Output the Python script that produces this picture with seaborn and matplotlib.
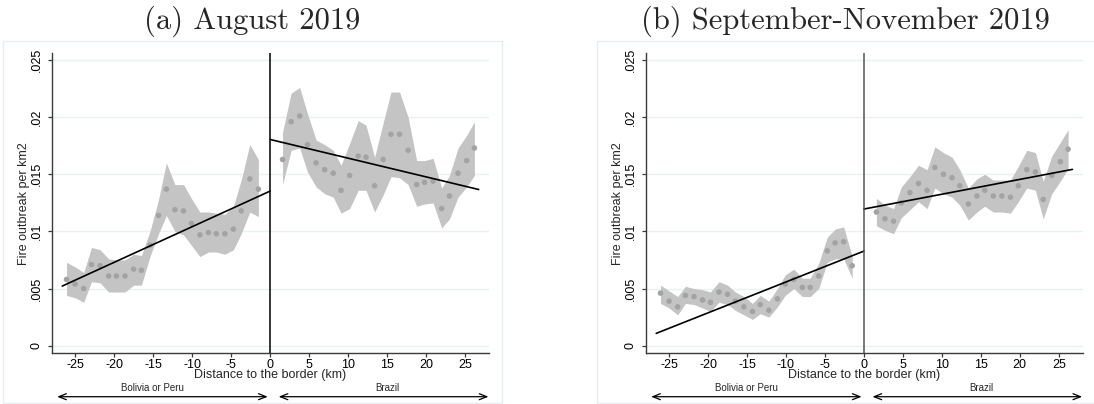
import numpy as np
import pandas as pd
import matplotlib
matplotlib.use("Agg")
import matplotlib.pyplot as plt
from matplotlib.patches import Rectangle
import seaborn as sns

# ---------------- data ----------------
xL = [-26.1, -25.0, -23.9, -22.9, -21.8, -20.7, -19.7, -18.6, -17.5, -16.5, -15.4, -14.3,
      -13.3, -12.2, -11.1, -10.1, -9.0, -7.9, -6.9, -5.8, -4.7, -3.7, -2.6, -1.5]
xR = [1.6, 2.7, 3.8, 4.8, 5.9, 7.0, 8.1, 9.1, 10.2, 11.3, 12.3, 13.4,
      14.5, 15.5, 16.6, 17.7, 18.8, 19.8, 20.9, 22.0, 23.0, 24.1, 25.2, 26.2]

# Panel (a) August 2019
aL_mean = [0.0058, 0.0054, 0.0050, 0.0071, 0.0070, 0.0061, 0.0061, 0.0061, 0.0067, 0.0066, 0.0088, 0.0114,
           0.0137, 0.0119, 0.0118, 0.0107, 0.0097, 0.0099, 0.0098, 0.0098, 0.0102, 0.0118, 0.0146, 0.0137]
aL_hi = [0.0073, 0.0069, 0.0064, 0.0086, 0.0084, 0.0076, 0.0075, 0.0075, 0.0080, 0.0079, 0.0100, 0.0128,
         0.0160, 0.0141, 0.0141, 0.0129, 0.0117, 0.0117, 0.0116, 0.0115, 0.0122, 0.0145, 0.0176, 0.0163]
aL_lo = [0.0044, 0.0042, 0.0038, 0.0056, 0.0055, 0.0047, 0.0047, 0.0047, 0.0053, 0.0053, 0.0078, 0.0098,
         0.0114, 0.0100, 0.0097, 0.0088, 0.0078, 0.0082, 0.0082, 0.0080, 0.0084, 0.0098, 0.0117, 0.0113]
aR_mean = [0.0163, 0.0196, 0.0201, 0.0176, 0.0160, 0.0154, 0.0151, 0.0136, 0.0149, 0.0166, 0.0165, 0.0140,
           0.0163, 0.0185, 0.0185, 0.0171, 0.0141, 0.0143, 0.0144, 0.0120, 0.0131, 0.0151, 0.0162, 0.0173]
aR_hi = [0.0187, 0.0221, 0.0226, 0.0203, 0.0180, 0.0176, 0.0171, 0.0158, 0.0177, 0.0197, 0.0193, 0.0165,
         0.0195, 0.0222, 0.0222, 0.0200, 0.0162, 0.0162, 0.0164, 0.0138, 0.0149, 0.0173, 0.0184, 0.0196]
aR_lo = [0.0141, 0.0171, 0.0173, 0.0152, 0.0139, 0.0133, 0.0130, 0.0116, 0.0120, 0.0136, 0.0136, 0.0117,
         0.0132, 0.0148, 0.0147, 0.0141, 0.0122, 0.0124, 0.0125, 0.0103, 0.0111, 0.0130, 0.0139, 0.0149]

# Panel (b) September-November 2019
bL_mean = [0.0046, 0.0039, 0.0034, 0.0044, 0.0043, 0.0040, 0.0038, 0.0047, 0.0045, 0.0039, 0.0034, 0.0030,
           0.0036, 0.0031, 0.0041, 0.0054, 0.0058, 0.0051, 0.0051, 0.0061, 0.0083, 0.0090, 0.0091, 0.0070]
bL_hi = [0.0053, 0.0048, 0.0043, 0.0052, 0.0050, 0.0049, 0.0047, 0.0056, 0.0053, 0.0047, 0.0043, 0.0037,
         0.0044, 0.0039, 0.0050, 0.0062, 0.0067, 0.0059, 0.0059, 0.0072, 0.0095, 0.0102, 0.0104, 0.0078]
bL_lo = [0.0037, 0.0033, 0.0027, 0.0037, 0.0036, 0.0033, 0.0030, 0.0038, 0.0036, 0.0031, 0.0027, 0.0023,
         0.0028, 0.0025, 0.0034, 0.0044, 0.0050, 0.0043, 0.0043, 0.0050, 0.0073, 0.0076, 0.0076, 0.0059]
bR_mean = [0.0117, 0.0111, 0.0109, 0.0125, 0.0134, 0.0142, 0.0136, 0.0156, 0.0150, 0.0147, 0.0140, 0.0124,
           0.0131, 0.0136, 0.0131, 0.0131, 0.0130, 0.0140, 0.0154, 0.0152, 0.0128, 0.0149, 0.0161, 0.0172]
bR_hi = [0.0129, 0.0123, 0.0120, 0.0139, 0.0148, 0.0158, 0.0154, 0.0174, 0.0169, 0.0165, 0.0154, 0.0138,
         0.0146, 0.0150, 0.0145, 0.0145, 0.0145, 0.0157, 0.0171, 0.0169, 0.0144, 0.0166, 0.0178, 0.0189]
bR_lo = [0.0105, 0.0101, 0.0098, 0.0112, 0.0119, 0.0126, 0.0120, 0.0138, 0.0133, 0.0130, 0.0123, 0.0110,
         0.0117, 0.0122, 0.0117, 0.0117, 0.0116, 0.0126, 0.0138, 0.0136, 0.0111, 0.0133, 0.0144, 0.0155]

# Linear fits (end points)
fitL_x = [-26.65, 0.0]
fitR_x = [0.0, 26.75]
a_fitL = [0.00522, 0.01353]
a_fitR = [0.01805, 0.01367]
b_fitL = [0.00108, 0.00828]
b_fitR = [0.01196, 0.01543]

titles = ["(a) August 2019", "(b) September-November 2019"]
yticks = [0, 0.005, 0.01, 0.015, 0.02, 0.025]
ytick_labels = ["0", ".005", ".01", ".015", ".02", ".025"]
xticks = [-25, -20, -15, -10, -5, 0, 5, 10, 15, 20, 25]
xtick_labels = ["-25", "-20", "-15", "-10", "-5", "0", "5", "10", "15", "20", "25"]
side_labels = ["Bolivia or Peru", "Brazil"]

# ---------------- style ----------------
sns.set_theme(style="white")
plt.rcParams["font.family"] = ["Liberation Sans", "DejaVu Sans"]

W, H = 1094, 404
fig = plt.figure(figsize=(W / 100, H / 100), dpi=100)
fig.patch.set_facecolor("white")

# light panel boxes (Stata graph region)
for (bx0, bx1) in [(3, 502), (597, 1096)]:
    fig.patches.append(Rectangle((bx0 / W, 1 - 402.5 / H), (bx1 - bx0) / W, (402.5 - 40.7) / H,
                                 transform=fig.transFigure, facecolor="none",
                                 edgecolor="#E6EEF0", lw=1.0, zorder=0))

axes_px = [(51.7, 489.0), (645.7, 1082.7)]
ax_top, ax_bot = 53.3, 353.3
panels = [
    (aL_mean, aL_lo, aL_hi, aR_mean, aR_lo, aR_hi, a_fitL, a_fitR, "black"),
    (bL_mean, bL_lo, bL_hi, bR_mean, bR_lo, bR_hi, b_fitL, b_fitR, "#555555"),
]
title_cx = [252.5, 845.5]

band_col = "#C4C4C4"
dot_col = "#A3A3A3"
axis_col = "#3A3A3A"

for i, (x0, x1) in enumerate(axes_px):
    mL, loL, hiL, mR, loR, hiR, fL, fR, vcol = panels[i]
    ax = fig.add_axes([x0 / W, 1 - ax_bot / H, (x1 - x0) / W, (ax_bot - ax_top) / H])
    ax.set_facecolor("white")

    dfL = pd.DataFrame({"x": xL, "m": mL, "lo": loL, "hi": hiL})
    dfR = pd.DataFrame({"x": xR, "m": mR, "lo": loR, "hi": hiR})

    # gridlines
    for yt in yticks:
        ax.axhline(yt, color="#EAF1F3", lw=1.0, zorder=0)

    # confidence bands
    for df in (dfL, dfR):
        ax.fill_between(df["x"], df["lo"], df["hi"], color=band_col, lw=0, zorder=1)
        sns.scatterplot(data=df, x="x", y="m", ax=ax, color=dot_col, s=16,
                        edgecolor="none", zorder=2, legend=False)

    # fitted lines
    sns.lineplot(x=fitL_x, y=fL, ax=ax, color="black", lw=1.2, zorder=3)
    sns.lineplot(x=fitR_x, y=fR, ax=ax, color="black", lw=1.2, zorder=3)

    # border line
    ax.axvline(0, color=vcol, lw=1.1, zorder=4)

    ax.set_xlim(-28.0, 28.07)
    ax.set_ylim(-0.000665, 0.02559)
    ax.set_yticks(yticks)
    ax.set_yticklabels(ytick_labels, rotation=90, va="center", fontsize=9)
    ax.set_xticks(xticks)
    ax.set_xticklabels(xtick_labels, fontsize=9)
    ax.tick_params(axis="both", direction="out", length=3, width=0.9, color=axis_col,
                   labelcolor="black")
    ax.tick_params(axis="x", bottom=True, pad=0.8)
    ax.tick_params(axis="y", left=True, pad=3.5)
    for sp in ["top", "right"]:
        ax.spines[sp].set_visible(False)
    for sp in ["left", "bottom"]:
        ax.spines[sp].set_color(axis_col)
        ax.spines[sp].set_linewidth(1.0)
    ax.set_ylabel("Fire outbreak per km2", fontsize=9, labelpad=0.5)
    ax.set_xlabel("Distance to the border (km)", fontsize=9, labelpad=-0.8)

    # side labels and arrows
    ax.text(-15.1, -0.117, side_labels[0], transform=ax.get_xaxis_transform(),
            ha="center", va="center", fontsize=7)
    ax.text(15.0, -0.117, side_labels[1], transform=ax.get_xaxis_transform(),
            ha="center", va="center", fontsize=7)
    arrow_kw = dict(arrowstyle="<->,head_length=0.45,head_width=0.18", lw=0.9, color="black",
                    shrinkA=0, shrinkB=0)
    ax.annotate("", xy=(-27.3, -0.1447), xytext=(-0.3, -0.1447), xycoords=ax.get_xaxis_transform(),
                textcoords=ax.get_xaxis_transform(), arrowprops=arrow_kw, annotation_clip=False)
    ax.annotate("", xy=(1.1, -0.1447), xytext=(28.0, -0.1447), xycoords=ax.get_xaxis_transform(),
                textcoords=ax.get_xaxis_transform(), arrowprops=arrow_kw, annotation_clip=False)

    fig.text(title_cx[i] / W, 1 - 28.3 / H, titles[i], ha="center", va="baseline",
             fontsize=22, family="cmr10")

fig.savefig("out.png", dpi=100)
